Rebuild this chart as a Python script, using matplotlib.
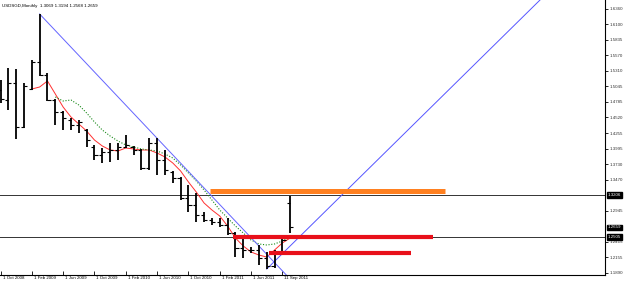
import numpy as np
import matplotlib
matplotlib.use("Agg")
import matplotlib.pyplot as plt
import matplotlib.transforms as mtrans

plt.rcParams['font.family'] = ['Liberation Sans', 'DejaVu Sans']

# monthly OHLC bars (price)
opens = [1.4985, 1.4816, 1.5104, 1.4359, 1.5002, 1.5459, 1.5239, 1.4816, 1.4613, 1.4478,
         1.4393, 1.4308, 1.4021, 1.3885, 1.3936, 1.3970, 1.4021, 1.4021, 1.3970, 1.3665,
         1.4088, 1.3801, 1.3598, 1.3496, 1.3158, 1.3039, 1.2870, 1.2786, 1.2752, 1.2701,
         1.2566, 1.2312, 1.2278, 1.2278, 1.2143, 1.2008, 1.2244, 1.3069]
highs = [1.5154, 1.5357, 1.5341, 1.5104, 1.5493, 1.6271, 1.5273, 1.4833, 1.4630, 1.4511,
         1.4478, 1.4325, 1.4055, 1.4004, 1.4088, 1.4088, 1.4224, 1.4038, 1.3987, 1.4173,
         1.4173, 1.3970, 1.3615, 1.3513, 1.3378, 1.3242, 1.2921, 1.2819, 1.2819, 1.2819,
         1.2583, 1.2481, 1.2329, 1.2363, 1.2244, 1.2278, 1.2481, 1.3194]
lows = [1.4765, 1.4647, 1.4156, 1.4342, 1.4985, 1.5222, 1.4799, 1.4393, 1.4308, 1.4308,
        1.4258, 1.4021, 1.3801, 1.3750, 1.3767, 1.3801, 1.4004, 1.3885, 1.3632, 1.3632,
        1.3547, 1.3547, 1.3412, 1.3124, 1.2921, 1.2752, 1.2752, 1.2701, 1.2667, 1.2532,
        1.2159, 1.2143, 1.2227, 1.2024, 1.1956, 1.1973, 1.2244, 1.2568]
closes = [1.4833, 1.5104, 1.4359, 1.5053, 1.5459, 1.5239, 1.4816, 1.4613, 1.4511, 1.4393,
          1.4444, 1.4139, 1.3885, 1.3936, 1.3970, 1.4021, 1.4055, 1.3970, 1.3665, 1.4088,
          1.3801, 1.3632, 1.3496, 1.3158, 1.3039, 1.2870, 1.2786, 1.2752, 1.2701, 1.2566,
          1.2312, 1.2278, 1.2278, 1.2143, 1.2008, 1.2244, 1.2447, 1.2659]

# moving averages (start index, values)
ma_fast_start = 4
ma_fast = [1.5002, 1.5036, 1.5138, 1.4918, 1.4697, 1.4528, 1.4410, 1.4291, 1.4139, 1.4038,
           1.3970, 1.3953, 1.4004, 1.3987, 1.3970, 1.3970, 1.3919, 1.3852, 1.3750, 1.3615,
           1.3429, 1.3259, 1.3073, 1.2955, 1.2853, 1.2684, 1.2481, 1.2346, 1.2244, 1.2193,
           1.2159, 1.2278, 1.2397, 1.2481]
ma_slow_start = 7
ma_slow = [1.4867, 1.4799, 1.4816, 1.4731, 1.4596, 1.4444, 1.4308, 1.4207, 1.4122, 1.4055,
           1.4021, 1.3987, 1.3970, 1.3953, 1.3902, 1.3835, 1.3716, 1.3581, 1.3446, 1.3293,
           1.3124, 1.2955, 1.2819, 1.2684, 1.2566, 1.2447, 1.2380, 1.2363, 1.2380, 1.2430,
           1.2498]

# drawn objects
trend_down = ([5.0, 36.5], [1.6271, 1.1855])
trend_up = ([34.0, 68.9], [1.1956, 1.6508])
orange_zone = (1.3276, 26.8, 56.8)
red_zones = [(1.2506, 29.7, 55.2), (1.2219, 34.3, 52.4)]
hlines = [1.3206, 1.2500]
price_boxes = [(1.3206, "1.3206"), (1.2659, "1.2659"), (1.2500, "1.2505")]

ytick_vals = [1.1890, 1.2155, 1.2415, 1.2945, 1.3470, 1.3730, 1.3995, 1.4255, 1.4520,
              1.4785, 1.5045, 1.5310, 1.5570, 1.5835, 1.6100, 1.6360]
ytick_labels = ["1.1890", "1.2155", "1.2415", "1.2945", "1.3470", "1.3730", "1.3995", "1.4255",
                "1.4520", "1.4785", "1.5045", "1.5310", "1.5570", "1.5835", "1.6100", "1.6360"]
xtick_idx = [0, 4, 8, 12, 16, 20, 24, 28, 32, 36]
xtick_labels = ["1 Oct 2008", "1 Feb 2009", "1 Jun 2009", "1 Oct 2009", "1 Feb 2010",
                "1 Jun 2010", "1 Oct 2010", "1 Feb 2011", "1 Jun 2011", "11 Sep 2011"]
title = "USDSGD,Monthly  1.3069 1.3194 1.2568 1.2659"

fs = 3.2
fig = plt.figure(figsize=(6.25, 2.85), dpi=100)
ax = fig.add_axes([0, 10 / 285, 605 / 625, 275 / 285])
ax.set_xlim(-0.064, 77.2)
ax.set_ylim(1.1855, 1.6508)

x = np.arange(len(closes))
ax.vlines(x, lows, highs, color='black', lw=1.3, zorder=3)
ax.hlines(opens, x - 0.4, x, color='black', lw=0.8, zorder=3)
ax.hlines(closes, x, x + 0.4, color='black', lw=0.8, zorder=3)

ax.plot(np.arange(ma_fast_start, ma_fast_start + len(ma_fast)), ma_fast, color='#ff3030', lw=0.7, zorder=2)
ax.plot(np.arange(ma_slow_start, ma_slow_start + len(ma_slow)), ma_slow, color='#1a8a1a', lw=0.8,
        ls=(0, (1, 1.5)), zorder=2)

ax.plot(*trend_down, color='#6464ff', lw=0.7, zorder=2)
ax.plot(*trend_up, color='#5555ff', lw=0.7, zorder=2)

for h in hlines:
    ax.axhline(h, color='#333333', lw=0.7, zorder=1)

ax.hlines(orange_zone[0], orange_zone[1], orange_zone[2], color='#ff8020', lw=3.6, zorder=4)
for y, x0, x1 in red_zones:
    ax.hlines(y, x0, x1, color='#e8101a', lw=3.0, zorder=4)

for s in ['top', 'left']:
    ax.spines[s].set_visible(False)
ax.spines['right'].set_linewidth(0.8)
ax.spines['bottom'].set_linewidth(0.8)

ax.yaxis.tick_right()
ax.set_yticks(ytick_vals, ytick_labels)
ax.tick_params(axis='y', length=2, width=0.6, pad=1, labelsize=fs, labelcolor='#333333')
ax.set_xticks(xtick_idx, xtick_labels)
ax.tick_params(axis='x', length=3, width=0.6, pad=0.5, labelsize=fs, direction='in')
offset = mtrans.ScaledTranslation(2 / 100, 0, fig.dpi_scale_trans)
for lab in ax.get_xticklabels():
    lab.set_horizontalalignment('left')
    lab.set_transform(lab.get_transform() + offset)

btrans = mtrans.blended_transform_factory(ax.transAxes, ax.transData)
for y, s in price_boxes:
    ax.text(1.004, y, s, transform=btrans, fontsize=fs, color='white', va='center', ha='left',
            bbox=dict(boxstyle='square,pad=0.2', fc='black', ec='black'), zorder=10, clip_on=False)

ax.text(0.004, 0.985, title, transform=ax.transAxes, fontsize=fs, va='top', ha='left')

fig.savefig('out.png', dpi=100)
